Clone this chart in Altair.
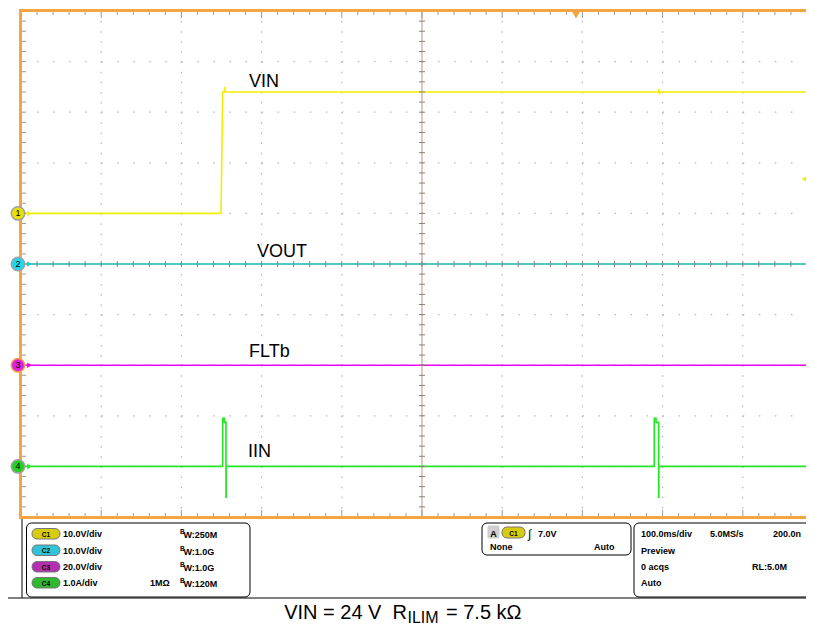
import altair as alt
import pandas as pd

# ---------------- data ----------------
# time in ms (100 ms/div), values in channel units
vin_t = [0, 249.4, 251.5, 253.5, 254.0, 254.6, 795.0, 795.5, 796.0, 796.6, 978.8]
vin_v = [0, 0, 24, 24, 25, 24, 24, 24.6, 23.6, 24, 24]
vout_t = [0, 978.8]
vout_v = [0, 0]
flt_t = [0, 978.8]
flt_v = [0, 0]
iin_t = [0, 251.5, 251.5, 253.6, 253.6, 255.6, 255.6, 255.8, 255.8,
         789.6, 789.6, 791.8, 791.8, 795.1, 795.1, 795.3, 795.3, 978.8]
iin_a = [0, 0, 0.95, 0.95, 0.87, 0.87, -0.61, -0.61, 0,
         0, 0.95, 0.95, 0.87, 0.87, -0.61, -0.61, 0, 0]

channels = ["VIN", "VOUT", "FLTb", "IIN"]
per_div = [10.0, 10.0, 20.0, 1.0]      # V/div, V/div, V/div, A/div
offsets = [1, 0, -2, -4]                # ground marker position (div)
colors = ["#f2ee00", "#22c8c8", "#f000f0", "#22e622"]
marker_fill = ["#e8e000", "#20d8f0", "#e020e0", "#22d022"]
marker_stroke = ["#a0a0a0", "#a0a0a0", "#f5a040", "#a0a0a0"]

settings_left = ["10.0V/div", "10.0V/div", "20.0V/div", "1.0A/div"]
settings_bw = ["W:250M", "W:1.0G", "W:1.0G", "W:120M"]

W, H = 785, 506
XPX = 0.802            # px per ms (80.2 px per 100 ms division)
T_END = W / XPX
YPX = H / 10.0         # px per div
FONT = "Liberation Sans"
ORANGE = "#f5a640"

rows = []
for name, ts, vs, s, o in zip(channels, [vin_t, vout_t, flt_t, iin_t],
                              [vin_v, vout_v, flt_v, iin_a], per_div, offsets):
    for i, (t, v) in enumerate(zip(ts, vs)):
        rows.append({"ch": name, "t": t, "div": v / s + o, "i": i})
traces_df = pd.DataFrame(rows)

xscale = alt.Scale(domain=[0, T_END], nice=False, zero=False)
yscale = alt.Scale(domain=[-5, 5], nice=False, zero=False)
one = pd.DataFrame({"a": [0]})


def px(x):   # page x -> plot x
    return x - 21


def py(y):   # page y -> plot y
    return y - 11


def text(s, x, y, size=9, weight="bold", align="left", color="black"):
    return alt.Chart(one).mark_text(
        text=s, font=FONT, fontSize=size, fontWeight=weight, align=align,
        baseline="alphabetic", color=color
    ).encode(x=alt.value(px(x)), y=alt.value(py(y)))


def box(x1, x2, y1, y2, fill="white", stroke="black", r=5, sw=1):
    return alt.Chart(one).mark_rect(
        fill=fill, stroke=stroke, strokeWidth=sw, cornerRadius=r
    ).encode(x=alt.value(px(x1)), x2=alt.value(px(x2)),
             y=alt.value(py(y1)), y2=alt.value(py(y2)))


def hline(x1, x2, y, color="black", w=1):
    return alt.Chart(one).mark_rule(color=color, strokeWidth=w).encode(
        x=alt.value(px(x1)), x2=alt.value(px(x2)), y=alt.value(py(y)))


def vline(x, y1, y2, color="black", w=1):
    return alt.Chart(one).mark_rule(color=color, strokeWidth=w).encode(
        x=alt.value(px(x)), y=alt.value(py(y1)), y2=alt.value(py(y2)))


layers = []

# ---------------- graticule ----------------
vgrid = pd.DataFrame({"t": [100 * k for k in range(1, 10) if k != 5]})
hgrid = pd.DataFrame({"d": [k for k in range(-4, 5) if k != 0]})
layers.append(alt.Chart(vgrid).mark_rule(color="#b5b5b5", strokeWidth=1.2,
                                         strokeDash=[1.5, YPX / 5 - 1.5]).encode(
    x=alt.X("t:Q", scale=xscale, axis=None), y=alt.value(0), y2=alt.value(H)))
layers.append(alt.Chart(hgrid).mark_rule(color="#b5b5b5", strokeWidth=1.2,
                                         strokeDash=[1.5, XPX * 20 - 1.5]).encode(
    y=alt.Y("d:Q", scale=yscale, axis=None), x=alt.value(0), x2=alt.value(W)))
# center cross
layers.append(alt.Chart(one).mark_rule(color="#a89a88", strokeWidth=1).encode(
    x=alt.value(500 * XPX), y=alt.value(0), y2=alt.value(H)))
layers.append(alt.Chart(one).mark_rule(color="#a89a88", strokeWidth=1).encode(
    y=alt.value(H / 2), x=alt.value(0), x2=alt.value(W)))

# ---------------- traces ----------------
layers.append(alt.Chart(traces_df).mark_line(strokeWidth=1.6, interpolate="linear").encode(
    x=alt.X("t:Q", scale=xscale, axis=None),
    y=alt.Y("div:Q", scale=yscale, axis=None),
    color=alt.Color("ch:N", scale=alt.Scale(domain=channels, range=colors), legend=None),
    order="i:Q",
    detail="ch:N"))

# ---------------- ticks ----------------
tks = [20 * k for k in range(1, 50) if 20 * k < T_END]
xt = pd.DataFrame({"t": tks, "major": [t % 100 == 0 for t in tks]})
yt = pd.DataFrame({"d": [round(-5 + 0.2 * k, 2) for k in range(1, 50)]})
xt_minor = xt[~xt["major"]]
xt_major = xt[xt["major"]]
tick_col = "#9a9a9a"
for dfx, ln in [(xt_minor, 4), (xt_major, 7)]:
    layers.append(alt.Chart(dfx).mark_rule(color=tick_col).encode(
        x=alt.X("t:Q", scale=xscale), y=alt.value(0), y2=alt.value(ln)))
    layers.append(alt.Chart(dfx).mark_rule(color=tick_col).encode(
        x=alt.X("t:Q", scale=xscale), y=alt.value(H - ln), y2=alt.value(H)))
layers.append(alt.Chart(xt).mark_rule(color="#8c8070").encode(
    x=alt.X("t:Q", scale=xscale), y=alt.value(H / 2 - 3), y2=alt.value(H / 2 + 3)))
layers.append(alt.Chart(yt).mark_rule(color=tick_col).encode(
    y=alt.Y("d:Q", scale=yscale), x=alt.value(0), x2=alt.value(5)))
layers.append(alt.Chart(yt).mark_rule(color="#8c8070").encode(
    y=alt.Y("d:Q", scale=yscale), x=alt.value(500 * XPX - 3), x2=alt.value(500 * XPX + 3)))

# ---------------- border ----------------
layers.append(alt.Chart(one).mark_rule(color=ORANGE, strokeWidth=3).encode(
    x=alt.value(-0.5), y=alt.value(-2), y2=alt.value(H + 2)))
layers.append(alt.Chart(one).mark_rule(color=ORANGE, strokeWidth=3).encode(
    y=alt.value(-0.5), x=alt.value(-2), x2=alt.value(W)))
layers.append(alt.Chart(one).mark_rule(color=ORANGE, strokeWidth=3).encode(
    y=alt.value(H + 0.5), x=alt.value(-2), x2=alt.value(W)))
# trigger position / level markers
layers.append(alt.Chart(one).mark_point(shape="triangle-down", filled=True, size=70,
                                        color=ORANGE, opacity=1).encode(
    x=alt.value(px(576)), y=alt.value(py(15))))
layers.append(alt.Chart(one).mark_point(shape="triangle-left", filled=True, size=60,
                                        color="#f2ee00", opacity=1).encode(
    x=alt.value(W - 1), y=alt.value(py(179))))

# ---------------- channel ground markers ----------------
mk = pd.DataFrame({"ch": channels, "off": offsets, "num": ["1", "2", "3", "4"]})
layers.append(alt.Chart(mk).mark_point(shape="triangle-right", filled=True, size=30,
                                       opacity=1).encode(
    x=alt.value(8.5), y=alt.Y("off:Q", scale=yscale),
    color=alt.Color("ch:N", scale=alt.Scale(domain=channels, range=colors), legend=None)))
layers.append(alt.Chart(mk).mark_point(shape="circle", filled=True, size=180,
                                       strokeWidth=1.5, opacity=1).encode(
    x=alt.value(-3), y=alt.Y("off:Q", scale=yscale),
    fill=alt.Fill("ch:N", scale=alt.Scale(domain=channels, range=marker_fill), legend=None),
    stroke=alt.Stroke("ch:N", scale=alt.Scale(domain=channels, range=marker_stroke), legend=None)))
layers.append(alt.Chart(mk).mark_text(font=FONT, fontSize=9, color="black",
                                      baseline="middle", align="center").encode(
    x=alt.value(-3), y=alt.Y("off:Q", scale=yscale), text="num:N"))

# ---------------- trace labels ----------------
layers += [
    text("VIN", 249, 87, size=18, weight="normal"),
    text("VOUT", 257, 257, size=18, weight="normal"),
    text("FLTb", 249, 357, size=18, weight="normal"),
    text("IIN", 248, 457, size=18, weight="normal"),
]

# ---------------- bottom status panel ----------------
layers.append(vline(22, 519, 598))
layers.append(hline(8, 814, 598))
layers.append(box(26.5, 250, 523, 597))
layers.append(box(482, 631, 523, 555))
layers.append(box(634, 830, 523, 597))

pill_fill = ["#d8cc10", "#30c4d8", "#b030b0", "#30b830"]
row_base = [537, 553.5, 570, 586]
for k in range(4):
    b = row_base[k]
    layers.append(box(32, 60, b - 8.5, b + 2, fill=pill_fill[k], stroke="#777777", r=5))
    layers.append(text("C%d" % (k + 1), 46, b - 0.5, size=6.5, weight="bold", align="center"))
    layers.append(text(settings_left[k], 63, b, size=9))
    layers.append(text("B", 180, b - 3, size=6.5))
    layers.append(text(settings_bw[k], 183.5, b + 1, size=9))
layers.append(text("1MΩ", 150, row_base[3], size=9))

# trigger box
layers.append(box(488, 499, 526, 538, fill="#cfcfcf", stroke="#cfcfcf", r=1))
layers.append(text("A", 493.5, 537, size=9, align="center"))
layers.append(box(502, 525, 527, 538, fill=pill_fill[0], stroke="#777777", r=5))
layers.append(text("C1", 513.5, 536, size=6.5, align="center"))
layers.append(text("∫", 528, 538, size=12, weight="normal"))
layers.append(text("7.0V", 538, 537, size=9))
layers.append(text("None", 490, 550, size=9))
layers.append(text("Auto", 594, 550, size=9))

# horizontal / acquisition box
layers += [
    text("100.0ms/div", 641, 537),
    text("5.0MS/s", 710, 537),
    text("200.0n", 773, 537),
    text("Preview", 641, 554),
    text("0 acqs", 641, 570),
    text("RL:5.0M", 752, 570),
    text("Auto", 641, 586),
]

# ---------------- caption ----------------
layers.append(text("VIN = 24 V\u00a0\u00a0R", 407, 619, size=20, weight="normal", align="right"))
layers.append(text("ILIM", 407.5, 622.5, size=16, weight="normal"))
layers.append(text("= 7.5 kΩ", 446, 619, size=20, weight="normal"))

chart = alt.layer(*layers).properties(
    width=W, height=H,
    autosize="none",
    padding={"left": 13, "top": 3, "right": 0, "bottom": 107},
    background="white",
).configure_view(stroke=None)

chart.save("out.html", embed_options={"renderer": "svg", "actions": False})
